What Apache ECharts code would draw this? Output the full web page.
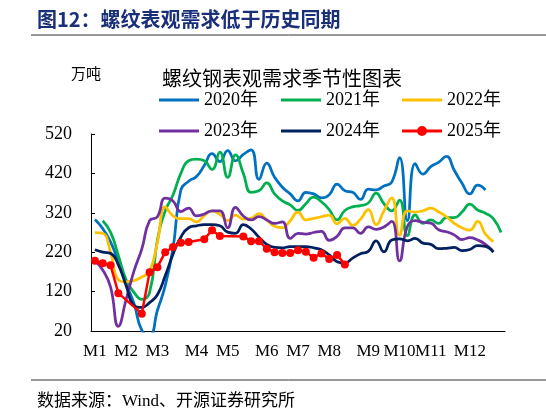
<!DOCTYPE html>
<html lang="zh-CN">
<head>
  <meta charset="utf-8">
  <style>
    body { margin: 0; background: #fff; }
    #container { width: 546px; height: 408px; }
  </style>
</head>
<body>
  <div id="container"></div>
  <script src="https://cdn.jsdelivr.net/npm/echarts@6/dist/echarts.min.js"></script>
  <script>
    // 周度横轴：53个类目，月份标签落在对应周
    var monthLabels = ['M1', 'M2', 'M3', 'M4', 'M5', 'M6', 'M7', 'M8', 'M9', 'M10', 'M11', 'M12'];
    var monthWeeks = [0, 4, 8, 13, 17, 22, 26, 30, 35, 39, 43, 48];
    var weekCount = 53;

    var names = ['2020年', '2021年', '2022年', '2023年', '2024年', '2025年'];
    var colors = ['#0070C0', '#00B050', '#FFC000', '#7030A0', '#002060', '#FF0000'];

    // 单位：万吨
    var y2020 = [303, 280, 246, 196, 140, 90, 22, 8, 72, 135, 230, 378, 400,
      412, 440, 470, 450, 478, 452, 468, 480, 405, 446, 410, 385, 368, 350,
      372, 368, 358, 366, 393, 376, 372, 354, 380, 378, 388, 398, 460, 300, 445, 418,
      437, 448, 463, 428, 395, 368, 390, 378, null, null];
    var y2021 = [null, 300, 271, 212, 150, 118, 100, 118, 250, 325, 365, 420, 452,
      456, 452, 430, 474, 410, 467, 420, 372, 376, 396, 368, 350, 340, 326,
      343, 360, 348, 328, 302, 326, 335, 338, 345, 370, 343, 325, 352, 262, 315, 293,
      302, 293, 308, 308, 322, 342, 327, 319, 305, 270];
    var y2022 = [270, 268, 220, 150, 145, 148, 157, 172, 245, 335, 312, 305, 305,
      297, 313, 325, 316, 300, 314, 304, 306, 318, 302, 286, 282, 300, 322,
      302, 306, 310, 314, 292, 306, 288, 304, 328, 290, 325, 358, 263, 325, 322, 325,
      332, 322, 310, 293, 282, 276, 298, 266, 247, null];
    var y2023 = [198, 175, 132, 32, 100, 172, 228, 300, 310, 357, 350, 323, 332,
      312, 317, 325, 325, 282, 334, 312, 302, 310, 302, 293, 297, 255, 268,
      266, 270, 273, 250, 260, 282, 282, 268, 284, 278, 284, 298, 198, 285, 300, 296,
      294, 277, 272, 264, 252, 257, 251, 240, 222, null];
    var y2024 = [226, 220, 217, 188, 135, 85, 80, 92, 112, 160, 215, 258, 282,
      287, 290, 290, 287, 271, 268, 290, 279, 258, 240, 232, 231, 234, 234,
      234, 231, 226, 213, 196, 192, 205, 216, 222, 249, 221, 251, 254, 249, 255, 243,
      240, 229, 230, 232, 224, 227, 237, 235, 220, null];
    var y2025 = [198, 192, 187, 116, null, null, 64, 169, 182, 220, 233, 244, 246,
      null, 253, 276, 261, null, null, 260, 248, 248, 229, 220, 218, 218, 225,
      221, 206, 217, 203, 213, 189];

    var seriesData = [y2020, y2021, y2022, y2023, y2024, y2025];

    var weeks = [];
    for (var i = 0; i < weekCount; i++) {
      var m = monthWeeks.indexOf(i);
      weeks.push(m >= 0 ? monthLabels[m] : '');
    }

    var serif = "'Liberation Serif', 'Noto Sans CJK SC', serif";
    var legendLeft = [154, 276, 397];
    var legendTop = [86, 117];
    // 2025年图例：粗线加圆点
    var dotLineIcon = 'path://M0,4 H40 V7 H0 Z M15,5.5 A5,5 0 1,1 25,5.5 A5,5 0 1,1 15,5.5 Z';

    var dom = document.getElementById('container');
    var myChart = echarts.init(dom, null, { renderer: 'canvas' });

    var legends = names.map(function (n, i) {
      var isLast = i === names.length - 1;
      return {
        data: [{ name: n, icon: isLast ? dotLineIcon : 'rect' }],
        left: legendLeft[i % 3],
        top: legendTop[Math.floor(i / 3)],
        itemWidth: 40,
        itemHeight: isLast ? 11 : 3,
        selectedMode: false,
        textStyle: { fontFamily: serif, fontSize: 18, color: '#000' }
      };
    });

    var series = names.map(function (n, i) {
      var isLast = i === names.length - 1;
      return {
        name: n,
        type: 'line',
        data: seriesData[i],
        smooth: !isLast,
        symbol: isLast ? 'circle' : 'none',
        symbolSize: 8,
        connectNulls: true,
        itemStyle: { color: colors[i] },
        lineStyle: { color: colors[i], width: isLast ? 2.5 : 2.75 }
      };
    });

    var option = {
      animation: false,
      backgroundColor: '#fff',
      title: [
        {
          text: '图12：螺纹表观需求低于历史同期',
          left: 32, top: 4,
          textStyle: { fontFamily: "'Noto Sans CJK SC'", fontSize: 20, fontWeight: 'bold', color: '#1A2F7A' }
        },
        {
          text: '螺纹钢表观需求季节性图表',
          left: 157, top: 63,
          textStyle: { fontFamily: "'Noto Sans CJK SC'", fontSize: 20, fontWeight: 'normal', color: '#000' }
        },
        {
          text: '万吨',
          left: 66, top: 61,
          textStyle: { fontFamily: "'Noto Sans CJK SC'", fontSize: 15, fontWeight: 'normal', color: '#000' }
        },
        {
          text: '数据来源：Wind、开源证券研究所',
          left: 32, top: 388,
          textStyle: { fontFamily: serif, fontSize: 17, fontWeight: 'normal', color: '#000' }
        }
      ],
      graphic: [
        { type: 'line', shape: { x1: 31, y1: 35, x2: 546, y2: 35 }, style: { stroke: '#333', lineWidth: 1 } },
        { type: 'line', shape: { x1: 31, y1: 380, x2: 546, y2: 380 }, style: { stroke: '#333', lineWidth: 1 } }
      ],
      legend: legends,
      grid: { left: 91, right: 41, top: 134, bottom: 77 },
      xAxis: {
        type: 'category',
        data: weeks,
        boundaryGap: true,
        axisLine: { lineStyle: { color: '#000', width: 1 } },
        axisTick: { inside: true, length: 4, interval: 4, lineStyle: { color: '#000' } },
        axisLabel: { interval: 0, margin: 12, fontFamily: serif, fontSize: 17, color: '#000' },
        splitLine: { show: false }
      },
      yAxis: {
        type: 'value',
        min: 20,
        max: 520,
        interval: 100,
        axisLine: { show: true, lineStyle: { color: '#000', width: 1 } },
        axisTick: { show: true, inside: true, length: 4, lineStyle: { color: '#000' } },
        axisLabel: { margin: 19, fontFamily: serif, fontSize: 18, color: '#000' },
        splitLine: { show: false }
      },
      series: series
    };

    myChart.setOption(option);
    window.addEventListener('resize', myChart.resize);
  </script>
</body>
</html>
